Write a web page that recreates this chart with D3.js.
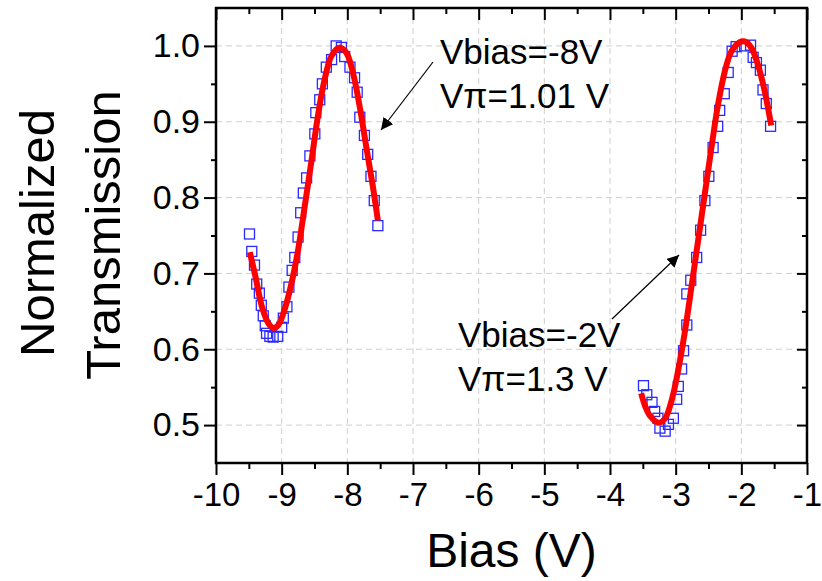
<!DOCTYPE html>
<html>
<head>
<meta charset="utf-8">
<script src="https://cdn.jsdelivr.net/npm/d3@7"></script>
<style>
  body { margin: 0; background: #fff; }
  svg { font-family: "Liberation Sans", Arial, sans-serif; }
</style>
</head>
<body>
<svg id="chart" width="822" height="581"></svg>
<script>
// measured points (Bias in V, normalized transmission)
var leftBias = [-9.49, -9.455, -9.414, -9.38, -9.34, -9.31, -9.28, -9.25, -9.23, -9.18, -9.13, -9.06, -9.0, -8.975,
    -8.92, -8.89, -8.84, -8.80, -8.75, -8.71, -8.67, -8.62, -8.57, -8.495, -8.48, -8.42, -8.38, -8.32, -8.24, -8.17,
    -8.09, -8.04, -7.96, -7.89, -7.85, -7.81, -7.74, -7.69, -7.64, -7.59, -7.535];
var leftTrans = [0.752, 0.729, 0.711, 0.686, 0.674, 0.658, 0.644, 0.631, 0.621, 0.617, 0.616, 0.617, 0.629, 0.641,
    0.656, 0.682, 0.704, 0.721, 0.748, 0.780, 0.806, 0.826, 0.855, 0.884, 0.912, 0.929, 0.950, 0.972, 0.982, 1.000,
    0.998, 0.986, 0.972, 0.958, 0.939, 0.906, 0.882, 0.857, 0.828, 0.796, 0.763];

var rightBias = [-3.49, -3.44, -3.36, -3.32, -3.27, -3.24, -3.16, -3.11, -3.035, -2.985, -2.96, -2.91, -2.88, -2.83,
    -2.83, -2.77, -2.68, -2.62, -2.555, -2.495, -2.43, -2.36, -2.33, -2.26, -2.20, -2.14, -2.08, -1.95, -1.86, -1.82,
    -1.77, -1.71, -1.67, -1.62, -1.555];
var rightTrans = [0.552, 0.540, 0.530, 0.518, 0.509, 0.496, 0.492, 0.501, 0.509, 0.534, 0.551, 0.574, 0.598, 0.632,
    0.673, 0.691, 0.721, 0.757, 0.796, 0.828, 0.866, 0.894, 0.915, 0.937, 0.965, 0.993, 0.999, 1.000, 1.001, 0.985,
    0.978, 0.968, 0.942, 0.924, 0.894];

// fitted curves
var leftFitBias = [-9.485, -9.40, -9.30, -9.20, -9.126, -9.05, -8.95, -8.85, -8.75, -8.65, -8.545, -8.444, -8.34,
    -8.24, -8.116, -8.015, -7.91, -7.81, -7.71, -7.61, -7.535];
var leftFitTrans = [0.728, 0.696, 0.656, 0.634, 0.628, 0.632, 0.654, 0.687, 0.731, 0.788, 0.849, 0.910, 0.958,
    0.987, 0.998, 0.991, 0.963, 0.919, 0.866, 0.814, 0.770];

var rightFitBias = [-3.525, -3.465, -3.39, -3.26, -3.16, -3.06, -2.96, -2.86, -2.76, -2.657, -2.556, -2.455, -2.354,
    -2.25, -2.15, -2.025, -1.95, -1.85, -1.75, -1.646, -1.545];
var rightFitTrans = [0.542, 0.525, 0.512, 0.503, 0.509, 0.533, 0.573, 0.623, 0.682, 0.744, 0.805, 0.866, 0.923,
    0.967, 0.993, 1.005, 1.006, 0.998, 0.976, 0.941, 0.895];

var xTicks = [-10, -9, -8, -7, -6, -5, -4, -3, -2, -1];
var xMinor = [-9.5, -8.5, -7.5, -6.5, -5.5, -4.5, -3.5, -2.5, -1.5];
var yTicks = [0.5, 0.6, 0.7, 0.8, 0.9, 1.0];
var yMinor = [0.55, 0.65, 0.75, 0.85, 0.95];

var svg = d3.select("#chart");

let margin = {top: 8, right: 15, bottom: 118, left: 216};
let width = 822 - margin.left - margin.right;
let height = 581 - margin.top - margin.bottom;

let x = d3.scaleLinear().domain([-10, -1]).range([0, width]);
let y = d3.scaleLinear().domain([0.45, 1.05]).range([height, 0]);

let plot = svg.append("g").attr("transform", "translate(" + margin.left + "," + margin.top + ")");

// grid
plot.append("g").selectAll("line").data(xTicks.slice(1, -1)).join("line")
    .attr("x1", d => x(d)).attr("x2", d => x(d))
    .attr("y1", 0).attr("y2", height)
    .attr("stroke", "#cfcfcf").attr("stroke-width", 1).attr("stroke-dasharray", "6,4");
plot.append("g").selectAll("line").data(yTicks).join("line")
    .attr("x1", 0).attr("x2", width)
    .attr("y1", d => y(d)).attr("y2", d => y(d))
    .attr("stroke", "#cfcfcf").attr("stroke-width", 1).attr("stroke-dasharray", "6,4");

// data squares
function squares(bias, trans) {
    let pts = bias.map((b, i) => ({x: b, y: trans[i]}));
    plot.append("g").selectAll("rect").data(pts).join("rect")
        .attr("x", d => x(d.x) - 5).attr("y", d => y(d.y) - 5)
        .attr("width", 10).attr("height", 10)
        .attr("fill", "none").attr("stroke", "#2a2aff").attr("stroke-width", 1.3);
}
squares(leftBias, leftTrans);
squares(rightBias, rightTrans);

// fit lines
let line = d3.line().x(d => x(d.x)).y(d => y(d.y)).curve(d3.curveCatmullRom);
function fit(bias, trans) {
    plot.append("path")
        .attr("d", line(bias.map((b, i) => ({x: b, y: trans[i]}))))
        .attr("fill", "none").attr("stroke", "#ff0000").attr("stroke-width", 6);
}
fit(leftFitBias, leftFitTrans);
fit(rightFitBias, rightFitTrans);

// axes
function styleAxis(g) {
    g.select(".domain").remove();
    g.selectAll(".tick line").attr("stroke", "#000").attr("stroke-width", 2);
}
let fmtX = d => String(d);
let fmtY = d3.format(".1f");

plot.append("g").attr("transform", "translate(0," + height + ")")
    .call(d3.axisBottom(x).tickValues(xTicks).tickSize(12).tickFormat(fmtX).tickPadding(8))
    .call(styleAxis)
    .call(g => g.selectAll("text").attr("font-size", 33).attr("font-family", "Liberation Sans").attr("fill", "#000"));
plot.append("g").attr("transform", "translate(0," + height + ")")
    .call(d3.axisBottom(x).tickValues(xMinor).tickSize(6).tickFormat(""))
    .call(styleAxis);

plot.append("g")
    .call(d3.axisLeft(y).tickValues(yTicks).tickSize(12).tickFormat(fmtY).tickPadding(4))
    .call(styleAxis)
    .call(g => g.selectAll("text").attr("font-size", 34).attr("font-family", "Liberation Sans").attr("fill", "#000"));
plot.append("g")
    .call(d3.axisLeft(y).tickValues(yMinor).tickSize(5).tickFormat(""))
    .call(styleAxis);

plot.append("g")
    .call(d3.axisTop(x).tickValues(xTicks).tickSize(-12).tickFormat(""))
    .call(styleAxis);
plot.append("g")
    .call(d3.axisTop(x).tickValues(xMinor).tickSize(-6).tickFormat(""))
    .call(styleAxis);
plot.append("g").attr("transform", "translate(" + width + ",0)")
    .call(d3.axisRight(y).tickValues(yTicks).tickSize(-10).tickFormat(""))
    .call(styleAxis);
plot.append("g").attr("transform", "translate(" + width + ",0)")
    .call(d3.axisRight(y).tickValues(yMinor).tickSize(-5).tickFormat(""))
    .call(styleAxis);

// frame
plot.append("rect")
    .attr("x", 0).attr("y", 0).attr("width", width).attr("height", height)
    .attr("fill", "none").attr("stroke", "#000").attr("stroke-width", 2.5);

// annotations
svg.append("defs").append("marker")
    .attr("id", "head").attr("viewBox", "0 0 10 10")
    .attr("refX", 10).attr("refY", 5)
    .attr("markerWidth", 12).attr("markerHeight", 12)
    .attr("markerUnits", "userSpaceOnUse")
    .attr("orient", "auto")
    .append("path").attr("d", "M0,0 L10,5 L0,10 z").attr("fill", "#000");

function note(l1, l2, tx, ty, ax, ay, bx, by) {
    svg.append("line")
        .attr("x1", ax).attr("y1", ay).attr("x2", bx).attr("y2", by)
        .attr("stroke", "#000").attr("stroke-width", 1.2)
        .attr("marker-end", "url(#head)");
    svg.append("text").text(l1).attr("x", tx).attr("y", ty)
        .attr("font-size", 35).attr("fill", "#000");
    svg.append("text").text(l2).attr("x", tx).attr("y", ty + 44)
        .attr("font-size", 35).attr("fill", "#000");
}
note("Vbias=-8V", "V\u03c0=1.01 V", 440, 64, 433, 62, 381, 130);
note("Vbias=-2V", "V\u03c0=1.3 V", 458, 347, 612, 319, 679, 255);

// axis titles
svg.append("text")
    .text("Bias (V)")
    .attr("x", margin.left + width / 2).attr("y", 567)
    .attr("text-anchor", "middle")
    .attr("font-size", 48).attr("fill", "#000");

svg.append("text")
    .text("Normalized")
    .attr("transform", "translate(54,233) rotate(-90)")
    .attr("text-anchor", "middle")
    .attr("font-size", 49).attr("fill", "#000");
svg.append("text")
    .text("Transmission")
    .attr("transform", "translate(120,235) rotate(-90)")
    .attr("text-anchor", "middle")
    .attr("font-size", 49).attr("fill", "#000");
</script>
</body>
</html>
